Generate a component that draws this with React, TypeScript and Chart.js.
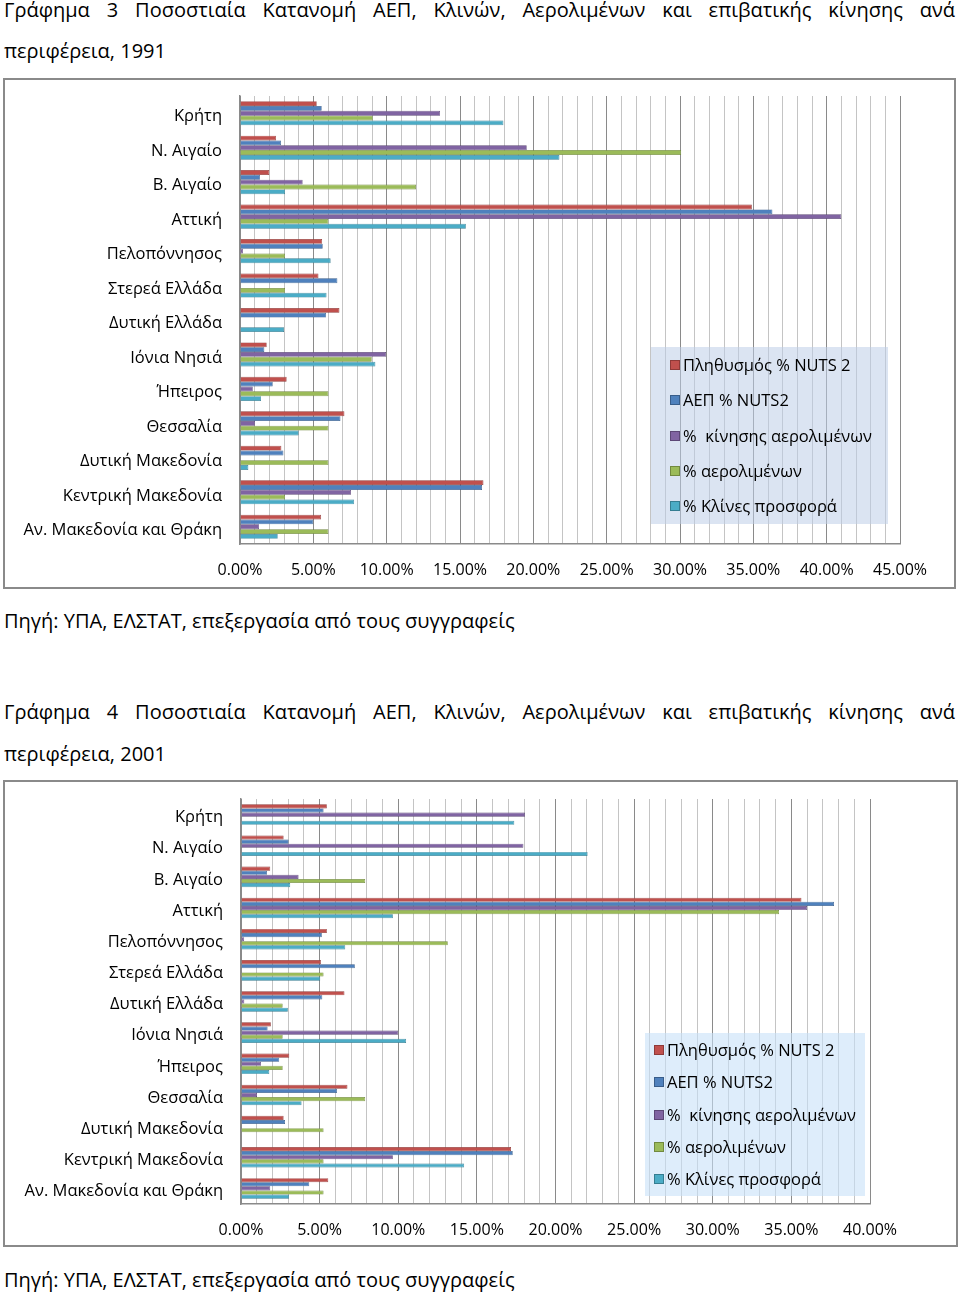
import React, { useEffect, useRef } from "react";
import { Chart, registerables } from "chart.js";

Chart.register(...registerables);

const FONT = "'Open Sans', 'Noto Sans', sans-serif";

const regions = [
  "Κρήτη",
  "Ν. Αιγαίο",
  "Β. Αιγαίο",
  "Αττική",
  "Πελοπόννησος",
  "Στερεά Ελλάδα",
  "Δυτική Ελλάδα",
  "Ιόνια Νησιά",
  "Ήπειρος",
  "Θεσσαλία",
  "Δυτική Μακεδονία",
  "Κεντρική Μακεδονία",
  "Αν. Μακεδονία και Θράκη",
];

const seriesNames = [
  "Πληθυσμός % NUTS 2",
  "ΑΕΠ % NUTS2",
  "%  κίνησης αερολιμένων",
  "% αερολιμένων",
  "% Κλίνες προσφορά",
];
const seriesColors = ["#C0504D", "#4F81BD", "#8064A2", "#9BBB59", "#4BACC6"];
const seriesBorders = ["#8E3A38", "#385D8A", "#5C4776", "#71893F", "#357D91"];

// 1991 (percent)
const pop1991 = [5.23, 2.46, 2.0, 34.9, 5.6, 5.35, 6.78, 1.82, 3.18, 7.12, 2.82, 16.6, 5.53];
const gdp1991 = [5.57, 2.8, 1.36, 36.3, 5.64, 6.64, 5.87, 1.66, 2.23, 6.85, 2.96, 16.5, 5.0];
const traffic1991 = [13.64, 19.55, 4.27, 41.0, 0.2, 0, 0, 9.96, 0.87, 1.02, 0, 7.57, 1.3];
const airports1991 = [9.05, 30.08, 12.0, 6.03, 3.07, 3.07, 0, 8.98, 6.03, 6.03, 6.03, 3.07, 6.03];
const beds1991 = [17.96, 21.78, 3.07, 15.4, 6.18, 5.9, 3.0, 9.23, 1.43, 4.0, 0.57, 7.78, 2.57];

// 2001 (percent)
const pop2001 = [5.46, 2.71, 1.86, 35.64, 5.46, 5.08, 6.58, 1.9, 3.07, 6.77, 2.71, 17.17, 5.55];
const gdp2001 = [5.25, 3.03, 1.65, 37.71, 5.14, 7.24, 5.17, 1.69, 2.43, 6.1, 2.8, 17.28, 4.34];
const traffic2001 = [18.06, 17.96, 3.66, 36.0, 0.2, 0, 0.21, 10.0, 1.27, 1.02, 0, 9.66, 1.86];
const airports2001 = [0, 0, 7.9, 34.22, 13.15, 5.25, 2.65, 2.65, 2.65, 7.9, 5.25, 5.25, 5.25];
const beds2001 = [17.38, 22.04, 3.13, 9.66, 6.63, 5.04, 2.98, 10.5, 1.8, 3.85, 0, 14.19, 3.05];

const axisMax1991 = 45;
const axisMax2001 = 40;

const title1Line1 = "Γράφημα 3 Ποσοστιαία Κατανομή ΑΕΠ, Κλινών, Αερολιμένων και επιβατικής κίνησης ανά";
const title1Line2 = "περιφέρεια, 1991";
const title2Line1 = "Γράφημα 4 Ποσοστιαία Κατανομή ΑΕΠ, Κλινών, Αερολιμένων και επιβατικής κίνησης ανά";
const title2Line2 = "περιφέρεια, 2001";
const sourceText = "Πηγή: ΥΠΑ, ΕΛΣΤΑΤ, επεξεργασία από τους συγγραφείς";

type ChartProps = {
  series: number[][];
  max: number;
  left: number;
  top: number;
  width: number;
  height: number;
  padTop: number;
  padRight: number;
  yWidth: number;
  xHeight: number;
  xTickPad: number;
  catPct: number;
  labelShift: number;
};

function BarChart(p: ChartProps) {
  const ref = useRef<HTMLCanvasElement>(null);
  useEffect(() => {
    const chart = new Chart(ref.current as HTMLCanvasElement, {
      type: "bar",
      data: {
        labels: regions,
        datasets: p.series.map((d, i) => ({
          label: seriesNames[i],
          data: d,
          backgroundColor: seriesColors[i],
          borderColor: seriesBorders[i],
          borderWidth: 0.7,
          barPercentage: 1.0,
          categoryPercentage: p.catPct,
        })),
      },
      options: {
        indexAxis: "y",
        responsive: false,
        animation: false,
        layout: { padding: { top: p.padTop, right: p.padRight, left: 0, bottom: 0 } },
        plugins: { legend: { display: false }, tooltip: { enabled: false } },
        scales: {
          x: {
            min: 0,
            max: p.max,
            afterFit: (s: any) => {
              s.height = p.xHeight;
            },
            ticks: {
              stepSize: 1,
              autoSkip: false,
              maxRotation: 0,
              padding: p.xTickPad,
              color: "#000",
              font: { family: FONT, size: 16 },
              callback: (v: any) => (Number(v) % 5 === 0 ? Number(v).toFixed(2) + "%" : ""),
            },
            grid: {
              drawTicks: false,
              color: (ctx: any) =>
                ctx.tick && Math.round(ctx.tick.value) % 5 === 0 ? "#8a8a8a" : "#c4c4c4",
              lineWidth: 1,
            },
            border: { display: true, color: "#8a8a8a", width: 1.5 },
          },
          y: {
            afterFit: (s: any) => {
              s.width = p.yWidth;
              s.paddingTop = 0;
              s.paddingBottom = 0;
            },
            grid: { display: false, drawTicks: false },
            border: { display: true, color: "#8a8a8a", width: 1.5 },
            ticks: {
              padding: 18,
              labelOffset: p.labelShift,
              color: "#000",
              font: { family: FONT, size: 16.5 },
            },
          },
        },
      },
    } as any);
    return () => chart.destroy();
  }, []);
  return (
    <canvas
      ref={ref}
      width={p.width}
      height={p.height}
      style={{ position: "absolute", left: p.left, top: p.top, width: p.width, height: p.height }}
    />
  );
}

function Legend(props: { left: number; top: number; width: number; height: number; rowStart: number; rowGap: number; markerX: number; bg: string }) {
  return (
    <div
      style={{
        position: "absolute",
        left: props.left,
        top: props.top,
        width: props.width,
        height: props.height,
        background: props.bg,
      }}
    >
      {seriesNames.map((n, i) => (
        <div
          key={n}
          style={{
            position: "absolute",
            left: props.markerX,
            top: props.rowStart + i * props.rowGap - 12,
            height: 24,
            lineHeight: "24px",
            whiteSpace: "pre",
            fontFamily: FONT,
            fontSize: 16.5,
            color: "#000",
            display: "flex",
            alignItems: "center",
          }}
        >
          <span
            style={{
              display: "inline-block",
              width: 10,
              height: 10,
              background: seriesColors[i],
              border: "1px solid " + seriesBorders[i],
              marginRight: 3,
              boxSizing: "border-box",
            }}
          />
          <span>{n}</span>
        </div>
      ))}
    </div>
  );
}

function TextLine(props: { text: string; top: number; justify?: boolean; size?: number }) {
  return (
    <div
      style={{
        position: "absolute",
        left: 4,
        width: 951,
        top: props.top,
        height: 30,
        lineHeight: "30px",
        fontFamily: FONT,
        fontSize: props.size || 20,
        color: "#000",
        textAlign: props.justify ? "justify" : "left",
        textAlignLast: props.justify ? "justify" : "left",
        whiteSpace: props.justify ? "normal" : "nowrap",
      } as any}
    >
      {props.text}
    </div>
  );
}

export default function App() {
  return (
    <div style={{ position: "absolute", left: 0, top: 0, width: 960, height: 1292, background: "#fff", overflow: "hidden" }}>
      <TextLine text={title1Line1} top={-5} justify />
      <TextLine text={title1Line2} top={36} />

      <div style={{ position: "absolute", left: 3, top: 78, width: 953, height: 511, border: "2px solid #8a8a8a", boxSizing: "border-box" }} />
      <BarChart
        series={[pop1991, gdp1991, traffic1991, airports1991, beds1991]}
        max={axisMax1991}
        left={5}
        top={80}
        width={949}
        height={507}
        padTop={16}
        padRight={54}
        yWidth={235}
        xHeight={43}
        xTickPad={17}
        catPct={0.7}
        labelShift={3.5}
      />
      <Legend left={651} top={347} width={237} height={177} rowStart={18} rowGap={35.25} markerX={19} bg="rgba(190,205,232,0.55)" />

      <TextLine text={sourceText} top={606} />

      <TextLine text={title2Line1} top={697} justify />
      <TextLine text={title2Line2} top={739} />

      <div style={{ position: "absolute", left: 3, top: 780, width: 955, height: 467, border: "2px solid #8a8a8a", boxSizing: "border-box" }} />
      <BarChart
        series={[pop2001, gdp2001, traffic2001, airports2001, beds2001]}
        max={axisMax2001}
        left={5}
        top={782}
        width={951}
        height={463}
        padTop={17}
        padRight={86}
        yWidth={236}
        xHeight={41}
        xTickPad={17}
        catPct={0.66}
        labelShift={3}
      />
      <Legend left={645} top={1033} width={220} height={163} rowStart={17} rowGap={32.25} markerX={9} bg="rgba(200,225,248,0.6)" />

      <TextLine text={sourceText} top={1265} />
    </div>
  );
}
